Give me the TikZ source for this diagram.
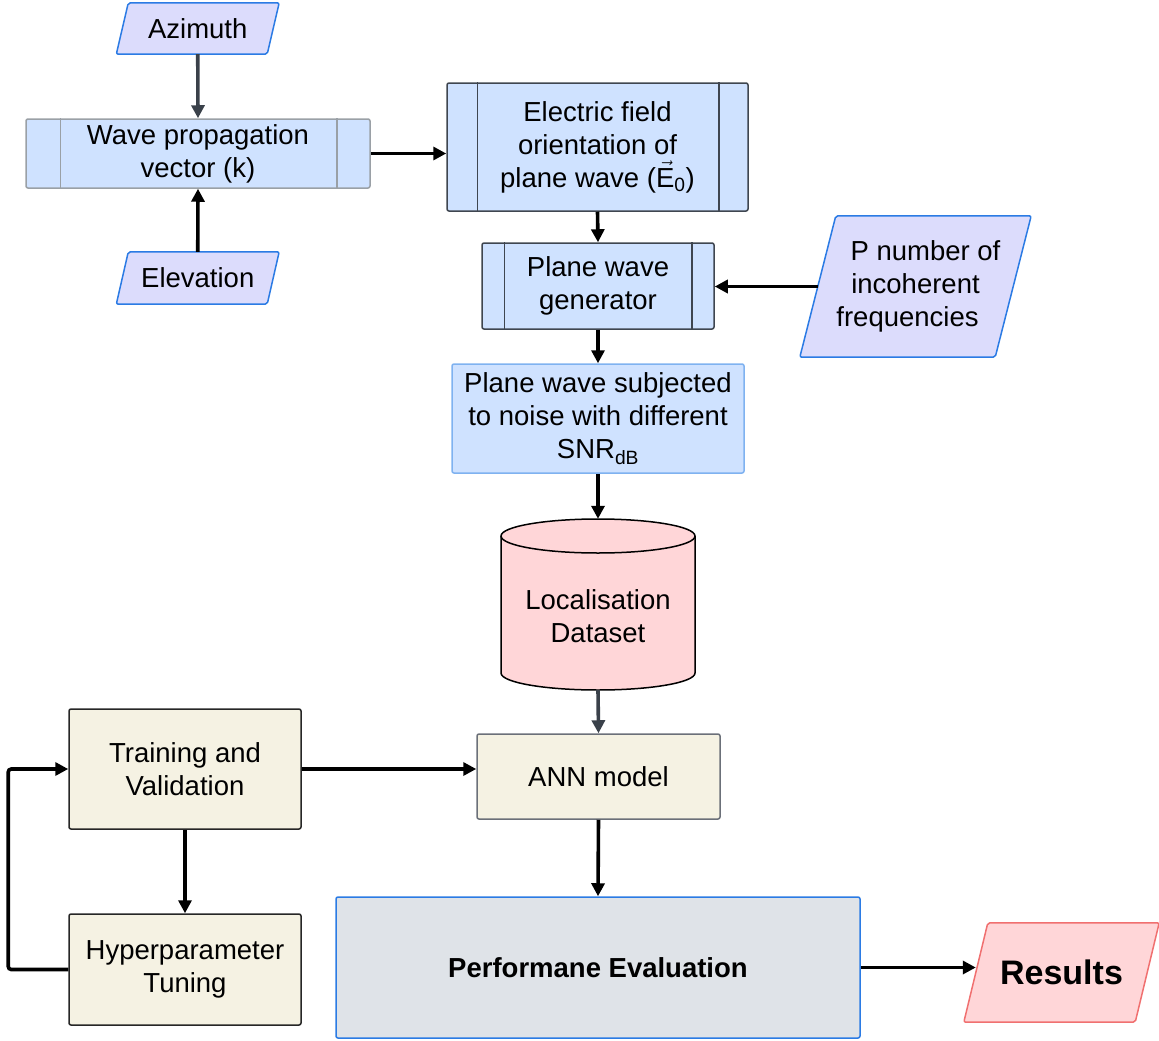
\documentclass[tikz,border=0pt]{standalone}
\usepackage{fontspec}
\setmainfont{Liberation Sans}
\usetikzlibrary{arrows.meta,calc,backgrounds}
\definecolor{bluefill}{HTML}{CFE2FF}
\definecolor{lavfill}{HTML}{DCDCFC}
\definecolor{blueline}{HTML}{2B7BE4}
\definecolor{darkline}{HTML}{3F4650}
\definecolor{lightline}{HTML}{9AA0A6}
\definecolor{nsline}{HTML}{7FB2F0}
\definecolor{pinkfill}{HTML}{FFD6D8}
\definecolor{resline}{HTML}{F07070}
\definecolor{beigefill}{HTML}{F5F2E3}
\definecolor{annline}{HTML}{6B7079}
\definecolor{perffill}{HTML}{DFE3E8}
\definecolor{arrgray}{HTML}{3A414A}
\tikzset{
  base/.style={inner sep=0pt, align=center, font=\fontsize{27.5}{33}\selectfont},
  boxw/.style 2 args={base, minimum width=#1pt, minimum height=#2pt},
  proc/.style={draw=darkline, fill=bluefill, line width=1.5pt, rounded corners=2pt},
  plain/.style={draw=annline, fill=beigefill, line width=1.5pt, rounded corners=2pt},
  arr/.style={line width=3.6pt, -{Triangle[length=13pt,width=13pt]}},
  paraline/.style={draw=blueline, fill=lavfill, line width=1.5pt, rounded corners=2pt},
}
\newcommand\paradraw[3]{% node, skew, style
  \path[#3] ($(#1.north west)+(#2,0)$) -- ($(#1.north east)+(#2,0)$) -- ($(#1.south east)-(#2,0)$) -- ($(#1.south west)-(#2,0)$) -- cycle;}
\newcommand\vecE{\ensuremath{\vec{\mbox{E}}}}
\begin{document}
\begin{tikzpicture}[x=1pt,y=-1pt]
\useasboundingbox (0,0) rectangle (1159,1041);
% nodes
\node[boxw={150.5}{51}] (az) at (197.75,28.5) {Azimuth};
\node[boxw={150.5}{52}] (el) at (197.75,278) {Elevation};
\node[boxw={344}{69}, proc, draw=lightline] (wp) at (198,153.5) {Wave propagation\\vector (k)};
\node[boxw={301}{128}, proc] (ef) at (597.5,147) {Electric field\\orientation of\\plane wave (\vecE\textsubscript{0})};
\node[boxw={232}{86}, proc] (pg) at (598,286) {Plane wave\\generator};
\node[boxw={195}{141}] (pn) at (915.5,286.5) {\hspace*{20pt}P number of\\incoherent\\frequencies\hspace*{16pt}};
\node[boxw={292}{109}, draw=nsline, fill=bluefill, line width=1.5pt, rounded corners=2pt] (ns) at (598,418.5) {Plane wave subjected\\to noise with different\\SNR\textsubscript{dB}};
\node[boxw={194}{171}] (ds) at (598,604.5) {};
\node[base] (dstext) at (598,616) {Localisation\\Dataset};
\node[boxw={243}{85}, plain] (ann) at (598.5,776.5) {ANN model};
\node[boxw={232}{120}, plain, draw=black!85] (tv) at (185,769) {Training and\\Validation};
\node[boxw={232}{111}, plain, draw=black!85] (hp) at (185,969.5) {Hyperparameter\\Tuning};
\node[boxw={524}{141}, draw=blueline, fill=perffill, line width=1.5pt, rounded corners=2pt, font=\fontsize{27.5}{33}\selectfont\bfseries] (pe) at (598,967.5) {Performane Evaluation};
\node[boxw={171}{99}, font=\fontsize{34}{40}\selectfont\bfseries] (res) at (1061.5,972.5) {Results};
% backgrounds
\begin{scope}[on background layer]
  \paradraw{az}{6}{paraline}
  \paradraw{el}{6}{paraline}
  \paradraw{pn}{18}{paraline}
  \paradraw{res}{12}{draw=resline, fill=pinkfill, line width=1.5pt, rounded corners=2pt}
  \draw[fill=pinkfill, line width=1.5pt] (501,536) -- (501,673) arc (180:360:97pt and 17pt) -- (695,536) arc (0:180:97pt and 17pt) -- cycle;
  \draw[line width=1.5pt] (501,536) arc (180:360:97pt and 17pt);
\end{scope}
% inner lines of process boxes
\draw[lightline, line width=1.5pt] ($(wp.north west)+(35,0)$) -- ($(wp.south west)+(35,0)$);
\draw[lightline, line width=1.5pt] ($(wp.north east)+(-34,0)$) -- ($(wp.south east)+(-34,0)$);
\draw[darkline, line width=1.5pt] ($(ef.north west)+(31,0)$) -- ($(ef.south west)+(31,0)$);
\draw[darkline, line width=1.5pt] ($(ef.north east)+(-30,0)$) -- ($(ef.south east)+(-30,0)$);
\draw[darkline, line width=1.5pt] ($(pg.north west)+(23,0)$) -- ($(pg.south west)+(23,0)$);
\draw[darkline, line width=1.5pt] ($(pg.north east)+(-23,0)$) -- ($(pg.south east)+(-23,0)$);
% connectors
\draw[arr, arrgray] (az.south) -- (wp.north);
\draw[arr] (el.north) -- (wp.south);
\draw[arr] (wp.east) -- (wp.east -| ef.west);
\draw[arr] (ef.south) -- (pg.north);
\draw[arr] (pn.west) -- (pn.west -| pg.east);
\draw[arr] (pg.south) -- (ns.north);
\draw[arr] (ns.south) -- (ds.north);
\draw[arr, arrgray] (ds.south) -- (ann.north);
\draw[arr] (tv.east) -- (tv.east -| ann.west);
\draw[arr] (tv.south) -- (hp.north);
\draw[arr, rounded corners=3pt] (hp.west) -- ++(-60,0) |- (tv.west);
\draw[arr] (ann.south) -- (pe.north);
\draw[arr] (pe.east) -- (pe.east -| res.west);
\end{tikzpicture}
\end{document}
